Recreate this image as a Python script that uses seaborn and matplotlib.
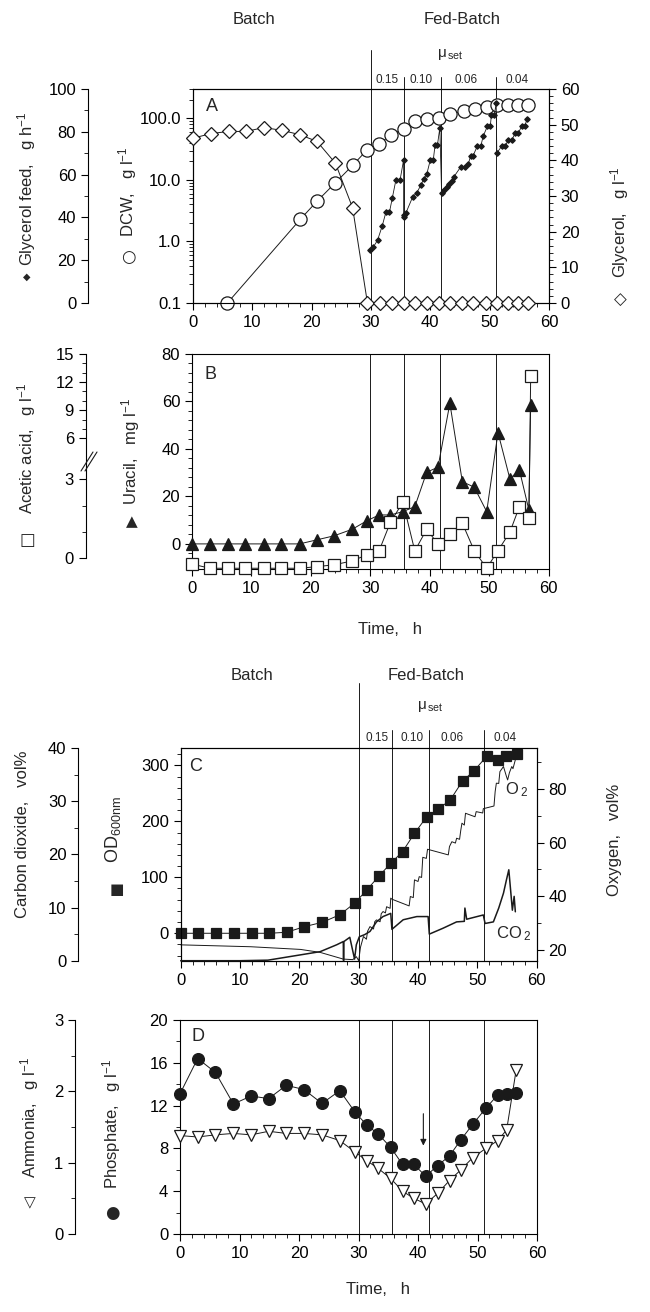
import numpy as np
import matplotlib
matplotlib.use("Agg")
import matplotlib.pyplot as plt
import matplotlib.ticker as mticker
from matplotlib.lines import Line2D
import seaborn as sns

sns.set_theme(style="ticks")
plt.rcParams["font.family"] = ["Liberation Sans", "DejaVu Sans"]
plt.rcParams.update({
    "mathtext.fontset": "custom",
    "mathtext.rm": "Liberation Sans",
    "mathtext.default": "regular",
    "axes.linewidth": 0.8,
    "axes.edgecolor": "black",
    "xtick.color": "black", "ytick.color": "black",
    "xtick.direction": "out", "ytick.direction": "out",
    "xtick.major.size": 5, "ytick.major.size": 5,
    "xtick.minor.size": 3, "ytick.minor.size": 3,
    "xtick.major.width": 0.8, "ytick.major.width": 0.8,
    "xtick.minor.width": 0.6, "ytick.minor.width": 0.6,
    "xtick.labelsize": 12, "ytick.labelsize": 12,
})

# ---------------- data ----------------
phase_t = [30.0, 35.6, 41.8, 51.1]
mu_set = ["0.15", "0.10", "0.06", "0.04"]

# panel A
dcw_t = [5.8, 18.1, 20.9, 24.0, 26.9, 29.3, 31.4, 33.3, 35.5, 37.4, 39.4, 41.5,
         43.3, 45.6, 47.5, 49.5, 51.2, 53.1, 54.8, 56.5]
dcw = [0.1, 2.3, 4.5, 9.0, 17.2, 30.5, 39, 53, 68, 90, 99, 103,
       116, 132, 141, 155, 163, 163, 163, 163]
glyc_t = [0, 3.0, 6.0, 9.0, 11.9, 15.0, 18.0, 20.9, 24.0, 26.9, 29.4, 31.5, 33.5,
          35.5, 37.4, 39.4, 41.5, 43.3, 45.3, 47.2, 49.4, 51.2, 53.1, 54.8, 56.5]
glycerol = [46.2, 47.5, 48.1, 48.1, 49.2, 48.4, 47.2, 45.3, 39.2, 26.7, 0, 0, 0,
            0, 0, 0, 0, 0, 0, 0, 0, 0, 0, 0, 0]
feed_t = [29.85, 30.4, 31.1, 31.9, 32.5, 33.1, 33.6, 34.2, 34.9, 35.5,
          35.5, 35.6, 35.9, 37.0, 37.7, 38.4, 38.9, 39.4, 40.0, 40.5, 40.8, 41.2, 41.6,
          41.9, 42.3, 42.8, 43.2, 43.6, 44.0, 45.1, 45.8, 46.4, 46.8, 47.2, 47.9, 48.5,
          48.9, 49.6, 50.1, 50.3, 50.8, 51.1,
          51.2, 52.0, 52.6, 53.1, 53.7, 54.3, 54.8, 55.4, 55.9, 56.3]
feed = [24.6, 26.2, 29.3, 36.1, 42.3, 42.3, 49.2, 57.5, 57.5, 66.9,
        40.3, 41.1, 42.2, 49.4, 51.5, 55.0, 58.1, 60.2, 66.9, 66.9, 73.9, 73.9, 81.8,
        51.3, 52.8, 54.1, 55.6, 57.2, 59.1, 63.5, 63.5, 65.0, 68.8, 68.8, 73.2, 73.2,
        77.9, 82.5, 82.5, 88.0, 88.0, 93.5,
        70.0, 73.2, 73.2, 76.0, 76.0, 79.4, 79.4, 82.5, 82.5, 86.0]

# panel B
b_t = [0, 3.0, 6.1, 9.0, 12.1, 15.0, 18.1, 21.0, 23.9, 27.0, 29.4, 31.5, 33.4,
       35.5, 37.5, 39.5, 41.4, 43.4, 45.5, 47.5, 49.6, 51.5, 53.5, 55.1, 56.7, 57.0]
uracil = [0, 0, 0, 0, 0, 0, 0, 1.7, 3.4, 6.2, 9.7, 12.2, 12.2,
          13.6, 15.7, 30.2, 32.3, 59.2, 26.2, 23.9, 13.6, 46.9, 27.4, 31.2, 14.3, 58.5]
acetic = [-0.22, -0.38, -0.38, -0.38, -0.38, -0.38, -0.38, -0.32, -0.25, -0.1, 0.13, 0.29, 1.37,
          2.13, 0.28, 1.1, 0.54, 0.92, 1.33, 0.29, -0.38, 0.29, 0.99, 1.96, 1.54, 12.6]
# broken acetic-acid axis: value -> axis units
ac_knots = [-10, 0, 3, 6, 15, 60]
ac_units = [-263, 0, 79, 120, 204.3, 626]

# panel C
od_t = [0, 2.97, 5.95, 8.98, 11.96, 14.94, 17.86, 20.84, 23.87, 26.85, 29.4, 31.35,
        33.4, 35.4, 37.4, 39.4, 41.46, 43.4, 45.4, 47.5, 49.4, 51.6, 53.4, 54.9, 56.6]
od600 = [0, 0, 0, 0, 0, 0, 1.8, 11.8, 19.6, 33.2, 54.6, 77.3,
         102, 125, 146, 178.6, 208, 222, 237.7, 272, 289.8, 316.6, 309.5, 316.6, 321]
o2_t = [0, 11.8, 20.2, 23.5, 27.4, 29.0, 29.6, 30.0, 30.3, 30.8, 31.3, 31.5, 31.9,
        32.5, 32.7, 33.0, 33.6, 33.8, 34.1, 34.5, 34.7, 35.3, 35.4,
        35.6, 38.5, 38.7, 39.2, 39.4, 40.0, 40.2, 40.6, 40.8, 41.4, 41.6,
        45.1, 45.3, 45.7, 46.3, 46.5, 47.0, 47.2, 47.4, 47.8, 48.0, 49.6, 49.8,
        50.9, 51.0, 52.8, 53.0, 53.2, 53.6, 53.8, 54.4, 54.9, 55.1, 55.4, 55.8, 56.0, 56.4]
o2 = [21.9, 21.2, 20.2, 19.1, 16.6, 16.4, 17.5, 16.0, 21.0, 25.0, 24.0, 27.0, 28.7,
      27.8, 30.5, 31.2, 30.5, 33.5, 34.3, 33.8, 36.1, 35.5, 39.3,
      38.9, 36.4, 39.9, 39.5, 46.1, 45.5, 47.3, 47.0, 54.5, 54.1, 57.5,
      55.4, 58.5, 60.3, 59.8, 61.6, 61.2, 64.5, 67.2, 66.5, 70.9, 69.6, 71.5,
      71.0, 72.6, 73.6, 79.0, 82.1, 82.0, 86.4, 88.3, 84.6, 83.3, 86.0, 88.3, 87.5, 90.8]
co2_t = [0, 10, 14.7, 20.2, 23.5, 26.3, 27.4, 27.45, 27.5, 28.5, 29.3, 29.6, 30.1, 31.0,
         31.9, 33.0, 34.1, 35.4, 35.6, 37.5, 39.8, 41.7, 41.9, 44.2, 46.5, 47.8, 47.9,
         48.2, 51.0, 51.3, 52.7, 53.6, 54.4, 54.9, 55.3, 55.6, 55.9, 56.2, 56.4]
co2 = [0, 0, 0.1, 1.1, 1.7, 3.0, 3.6, 0.0, 3.6, 4.4, 0.3, 3.0, 4.5, 4.9,
       5.5, 7.3, 8.3, 8.9, 5.9, 7.7, 8.3, 8.3, 5.0, 6.1, 7.3, 7.4, 9.9,
       7.8, 8.6, 7.0, 7.3, 9.9, 12.7, 15.2, 17.1, 13.3, 9.5, 12.1, 9.2]

# panel D
d_t = [0, 2.97, 5.95, 8.98, 11.96, 14.9, 17.86, 20.84, 23.87, 26.85, 29.4, 31.35, 33.3,
       35.4, 37.4, 39.3, 41.3, 43.3, 45.3, 47.2, 49.2, 51.4, 53.4, 54.9, 56.5]
phosphate = [13.1, 16.4, 15.1, 12.15, 12.9, 12.65, 13.9, 13.5, 12.2, 13.4, 11.4, 10.2, 9.35,
             8.1, 6.5, 6.5, 5.4, 6.4, 7.3, 8.8, 10.25, 11.75, 13.0, 13.1, 13.2]
ammonia = [1.38, 1.36, 1.39, 1.41, 1.39, 1.44, 1.41, 1.41, 1.39, 1.31, 1.15, 1.03, 0.92,
           0.78, 0.6, 0.5, 0.42, 0.57, 0.75, 0.9, 1.07, 1.2, 1.31, 1.46, 2.3]

# ---------------- figure ----------------
W, H = 650, 1312
fig = plt.figure(figsize=(W / 100, H / 100), dpi=100)


def box(l, t, r, b):
    return [l / W, 1 - b / H, (r - l) / W, (b - t) / H]


def ftext(x, y, s, **kw):
    kw.setdefault("ha", "center")
    kw.setdefault("va", "center")
    kw.setdefault("fontsize", 12)
    fig.text(x / W, 1 - y / H, s, **kw)


def symbol(x, y, s, size=11):
    ftext(x, y, s, fontsize=size, family="DejaVu Sans")


def series(ax, x, y, **kw):
    kw.setdefault("color", "k")
    kw.setdefault("lw", 0.7)
    kw.setdefault("mec", "k")
    kw.setdefault("mew", 0.9)
    kw.setdefault("clip_on", False)
    sns.lineplot(x=x, y=y, ax=ax, estimator=None, sort=False, legend=False, **kw)
    ax.set_xlabel("")
    ax.set_ylabel("")


def time_axis(ax):
    ax.set_xlim(0, 60)
    ax.xaxis.set_major_locator(mticker.MultipleLocator(10))
    ax.xaxis.set_minor_locator(mticker.MultipleLocator(2))
    ax.tick_params(axis="x", which="both", top=False)


def left_offset(tw, frac):
    tw.spines["right"].set_visible(False)
    tw.spines["top"].set_visible(False)
    tw.spines["bottom"].set_visible(False)
    tw.spines["left"].set_visible(True)
    tw.spines["left"].set_position(("axes", frac))
    tw.yaxis.set_ticks_position("left")
    tw.yaxis.set_label_position("left")


def phase_lines(ax, top1, top_rest):
    for i, t in enumerate(phase_t):
        ax.axvline(t, ymin=0, ymax=top1 if i == 0 else top_rest, color="k",
                   lw=0.7, clip_on=False, zorder=1)


# ----- panel A -----
axA = fig.add_axes(box(193, 89, 549, 303))
axA.set_yscale("log")
axAr = axA.twinx()
axAf = axA.twinx()
time_axis(axA)
axA.set_ylim(0.1, 300)
axA.yaxis.set_major_locator(mticker.FixedLocator([0.1, 1, 10, 100]))
axA.yaxis.set_major_formatter(mticker.FormatStrFormatter("%.1f"))
axA.yaxis.set_minor_locator(mticker.LogLocator(subs=np.arange(2, 10)))
axA.yaxis.set_minor_formatter(mticker.NullFormatter())
phase_lines(axA, 1.182, 1.056)

axAr.set_ylim(0, 60)
axAr.yaxis.set_major_locator(mticker.MultipleLocator(10))
axAr.yaxis.set_minor_locator(mticker.MultipleLocator(2))
axAf.set_ylim(0, 100)
left_offset(axAf, -0.295)
axAf.yaxis.set_major_locator(mticker.MultipleLocator(20))
axAf.yaxis.set_minor_locator(mticker.MultipleLocator(10))

series(axA, dcw_t, dcw, marker="o", ms=9.5, mfc="white", zorder=3)
series(axAr, glyc_t, glycerol, marker="D", ms=7.3, mfc="white", zorder=3)
series(axAf, feed_t, feed, marker="D", ms=2.8, mfc="k", lw=0.6, zorder=4)
axA.set_xlim(0, 60)
axA.text(0.053, 0.917, "A", transform=axA.transAxes, fontsize=13, ha="center", va="center")

ftext(254, 20, "Batch")
ftext(462, 20, "Fed-Batch")
ftext(450, 55, r"$\mu$$_{\,\rm set}$", fontsize=11)
for x, s in zip([387, 421, 466, 517], mu_set):
    ftext(x, 80, s, fontsize=8.5)
ftext(27, 189, "Glycerol feed,   g h$^{-1}$", rotation=90)
symbol(27, 277, "◆", 7)
ftext(128, 192, "DCW,   g l$^{-1}$", rotation=90)
symbol(128, 257, "○", 12)
ftext(620, 222, "Glycerol,   g l$^{-1}$", rotation=90)
symbol(620, 300, "◇", 12)

# ----- panel B -----
axB = fig.add_axes(box(192, 354, 548.5, 569.3))
axBa = axB.twinx()
time_axis(axB)
axB.set_ylim(-10.7, 80)
axB.yaxis.set_major_locator(mticker.MultipleLocator(20))
axB.yaxis.set_minor_locator(mticker.MultipleLocator(4))
phase_lines(axB, 1, 1)

axBa.set_yscale("function", functions=(lambda v: np.interp(v, ac_knots, ac_units),
                                        lambda p: np.interp(p, ac_units, ac_knots)))
axBa.set_ylim(-0.42, 15)
left_offset(axBa, -0.298)
axBa.spines["left"].set_bounds(0, 15)
axBa.yaxis.set_major_locator(mticker.FixedLocator([0, 3, 6, 9, 12, 15]))
axBa.yaxis.set_minor_locator(mticker.FixedLocator([1, 2, 7, 8, 10, 11, 13, 14]))
axBa.yaxis.set_major_formatter(mticker.FormatStrFormatter("%d"))

series(axB, b_t, uracil, marker="^", ms=8.5, mfc="k", zorder=4)
series(axBa, b_t, acetic, marker="s", ms=8.3, mfc="white", zorder=3)
axB.set_xlim(0, 60)
axB.text(0.053, 0.905, "B", transform=axB.transAxes, fontsize=13, ha="center", va="center")

# break marks on acetic acid axis
for dx in (0, 4):
    fig.add_artist(Line2D([(81 + dx) / W, (93 + dx) / W],
                          [1 - 471 / H, 1 - 452 / H], color="k", lw=0.8))
ftext(27, 448, "Acetic acid,   g l$^{-1}$", rotation=90)
symbol(27, 540, "□", 12)
ftext(131, 451, "Uracil,   mg l$^{-1}$", rotation=90)
symbol(132, 522, "▲", 11)
ftext(390, 630, "Time,   h")

# ----- panel C -----
axC = fig.add_axes(box(180.7, 748, 536.7, 960.7))
axCo = axC.twinx()
axCc = axC.twinx()
time_axis(axC)
axC.set_ylim(-49, 331)
axC.yaxis.set_major_locator(mticker.MultipleLocator(100))
axC.yaxis.set_minor_locator(mticker.MultipleLocator(20))
phase_lines(axC, 1.306, 1.085)

axCo.set_ylim(16, 95.2)
axCo.yaxis.set_major_locator(mticker.FixedLocator([20, 40, 60, 80]))
axCo.yaxis.set_minor_locator(mticker.FixedLocator([30, 50, 70, 90]))
axCc.set_ylim(0, 40)
left_offset(axCc, -0.288)
axCc.yaxis.set_major_locator(mticker.MultipleLocator(10))
axCc.yaxis.set_minor_locator(mticker.MultipleLocator(5))

series(axC, od_t, od600, marker="s", ms=7.6, mfc="k", zorder=4)
series(axCo, o2_t, o2, lw=0.7, zorder=2)
series(axCc, co2_t, co2, lw=1.1, zorder=2)
axC.set_xlim(0, 60)
axC.text(0.043, 0.915, "C", transform=axC.transAxes, fontsize=13, ha="center", va="center")
axCo.text(56.6, 79.6, "O$\\,_2$", fontsize=12, ha="center", va="center")
axCo.text(56.2, 26.2, "CO$\\,_2$", fontsize=12, ha="center", va="center")

ftext(252, 675, "Batch")
ftext(426, 675, "Fed-Batch")
ftext(430, 707, r"$\mu$$_{\,\rm set}$", fontsize=11)
for x, s in zip([377, 412, 452, 505], mu_set):
    ftext(x, 738, s, fontsize=8.5)
ftext(23, 834, "Carbon dioxide,   vol%", rotation=90)
ftext(113, 830, "OD$_{600nm}$", rotation=90, fontsize=13)
symbol(117, 890, "■", 11)
ftext(614, 840, "Oxygen,   vol%", rotation=90)

# ----- panel D -----
axD = fig.add_axes(box(180, 1020, 537, 1234))
axDn = axD.twinx()
time_axis(axD)
axD.set_ylim(0, 20)
axD.yaxis.set_major_locator(mticker.MultipleLocator(4))
axD.yaxis.set_minor_locator(mticker.MultipleLocator(2))
phase_lines(axD, 1, 1)

axDn.set_ylim(0, 3)
left_offset(axDn, -0.294)
axDn.yaxis.set_major_locator(mticker.MultipleLocator(1))
axDn.yaxis.set_minor_locator(mticker.MultipleLocator(0.5))

series(axD, d_t, phosphate, marker="o", ms=8.5, mfc="k", zorder=4)
series(axDn, d_t, ammonia, marker="v", ms=8.5, mfc="white", zorder=3)
axD.set_xlim(0, 60)
axD.text(0.05, 0.925, "D", transform=axD.transAxes, fontsize=13, ha="center", va="center")
axD.annotate("", xy=(40.9, 8.0), xytext=(40.9, 11.5),
             arrowprops=dict(arrowstyle="-|>", color="k", lw=0.8, mutation_scale=9))

ftext(30, 1117, "Ammonia,   g l$^{-1}$", rotation=90)
symbol(30, 1203, "▽", 11)
ftext(112, 1124, "Phosphate,   g l$^{-1}$", rotation=90)
symbol(112, 1213, "●", 12)
ftext(378, 1290, "Time,   h")

fig.savefig("out.png", dpi=100)
